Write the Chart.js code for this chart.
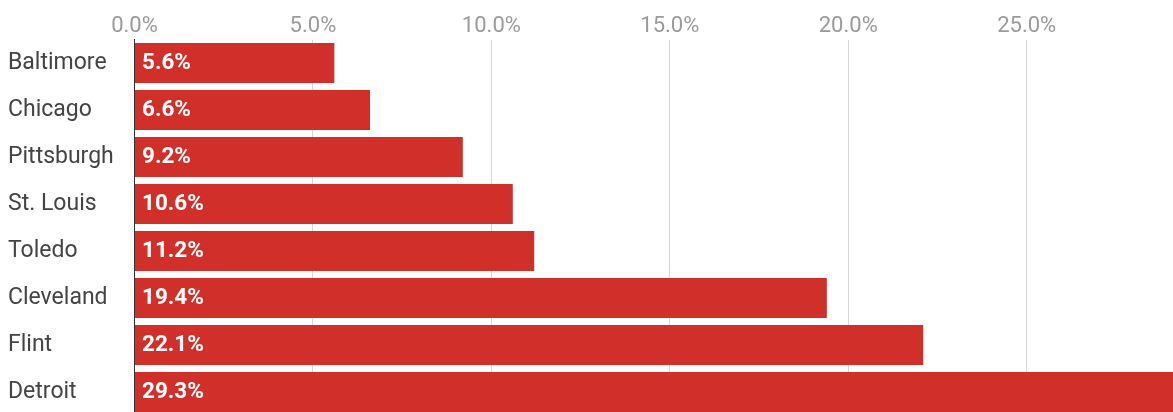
<!DOCTYPE html>
<html>
<head>
<meta charset="utf-8">
<script src="https://cdn.jsdelivr.net/npm/chart.js@4/dist/chart.umd.min.js"></script>
<style>
html,body{margin:0;padding:0;background:#fff;overflow:hidden;width:1173px;height:412px;}
#wrap{position:relative;width:1173px;height:416px;}
</style>
</head>
<body>
<div id="wrap"><canvas id="c"></canvas></div>
<script>
const cities = ["Baltimore","Chicago","Pittsburgh","St. Louis","Toledo","Cleveland","Flint","Detroit"];
const rates = [5.6, 6.6, 9.2, 10.6, 11.2, 19.4, 22.1, 29.3];
const xTicks = [0, 5, 10, 15, 20, 25];

const FONT = "Roboto, 'Noto Sans', sans-serif";

const barLabels = {
  id: 'barLabels',
  afterDatasetsDraw(chart) {
    const ctx = chart.ctx;
    const meta = chart.getDatasetMeta(0);
    ctx.save();
    ctx.fillStyle = '#ffffff';
    ctx.font = "bold 22.5px " + FONT;
    ctx.textAlign = 'left';
    ctx.textBaseline = 'middle';
    meta.data.forEach((bar, i) => {
      ctx.fillText(rates[i].toFixed(1) + '%', bar.base + 7, bar.y);
    });
    ctx.restore();
  }
};

new Chart(document.getElementById('c'), {
  type: 'bar',
  data: {
    labels: cities,
    datasets: [{
      data: rates,
      backgroundColor: '#d1302a',
      borderWidth: 0,
      barPercentage: 0.85,
      categoryPercentage: 1.0
    }]
  },
  options: {
    indexAxis: 'y',
    responsive: true,
    maintainAspectRatio: false,
    animation: false,
    layout: { padding: { left: 8, right: 0, top: 0, bottom: 0.5 } },
    plugins: { legend: { display: false }, tooltip: { enabled: false } },
    scales: {
      x: {
        position: 'top',
        min: 0,
        max: 29.1,
        afterBuildTicks(scale) { scale.ticks = xTicks.map(v => ({ value: v })); },
        afterFit(scale) { scale.height = 39.5; scale.paddingLeft = 0; scale.paddingRight = 0; },
        grid: { color: '#d6d6d6', drawTicks: false, lineWidth: 1 },
        border: { display: false },
        ticks: {
          padding: -0.5,
          color: '#9a9a9a',
          font: { family: FONT, size: 22 },
          callback: v => v.toFixed(1) + '%'
        }
      },
      y: {
        afterFit(scale) { scale.width = 126.5; scale.paddingTop = 0; scale.paddingBottom = 0; },
        grid: { display: false, drawTicks: false },
        border: { display: true, color: '#333333', width: 1 },
        ticks: {
          crossAlign: 'far',
          color: '#444444',
          font: { family: FONT, size: 23 }
        }
      }
    }
  },
  plugins: [barLabels]
});
</script>
</body>
</html>
